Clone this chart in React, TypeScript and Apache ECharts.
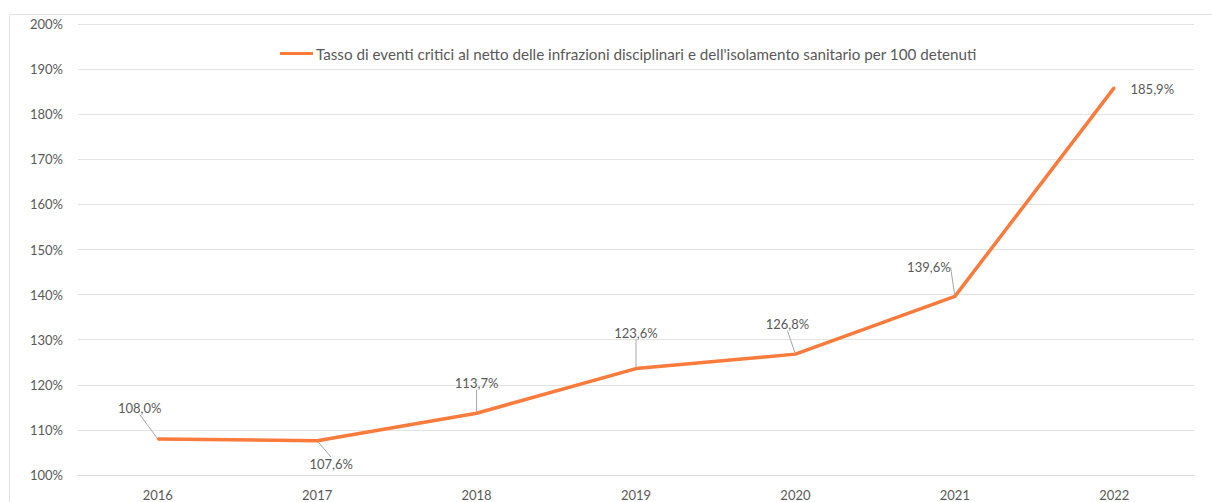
import React, { useEffect, useRef } from "react";
import * as echarts from "echarts";

const years = ["2016", "2017", "2018", "2019", "2020", "2021", "2022"];
const values = [108.0, 107.6, 113.7, 123.6, 126.8, 139.6, 185.9];
const seriesName =
  "Tasso di eventi critici al netto delle infrazioni disciplinari e dell'isolamento sanitario per 100 detenuti";
const labelOffsets = [
  [-18, -31],
  [14, 23],
  [0, -30],
  [0, -36],
  [-8, -30],
  [-26, -29],
  [38, 1],
];
const showLeader = [true, true, true, true, true, true, false];

const FONT = "Lato, 'Open Sans', sans-serif";
const TEXT = "#595959";

export default function App() {
  const ref = useRef<HTMLDivElement>(null);
  useEffect(() => {
    if (!ref.current) return;
    const chart = echarts.init(ref.current, undefined, { renderer: "svg" });
    chart.setOption({
      animation: false,
      backgroundColor: "#ffffff",
      graphic: [
        {
          type: "rect",
          shape: { x: 9.5, y: 14.5, width: 1240, height: 520 },
          style: { fill: "none", stroke: "#e3e3e3", lineWidth: 1 },
          z: -10,
        },
      ],
      legend: {
        top: 41,
        left: 275,
        icon: "rect",
        itemWidth: 33,
        itemHeight: 3,
        itemGap: 10,
        textStyle: { color: TEXT, fontSize: 15.2, fontFamily: FONT, padding: [0, 0, 0, -2] },
        data: [seriesName],
      },
      grid: { left: 78, right: 18, top: 24, bottom: 27, containLabel: false },
      xAxis: {
        type: "category",
        data: years,
        boundaryGap: true,
        axisLine: { show: true, lineStyle: { color: "#d9d9d9" } },
        axisTick: { show: false },
        axisLabel: { color: TEXT, fontSize: 13, fontFamily: FONT, margin: 13 },
      },
      yAxis: {
        type: "value",
        min: 100,
        max: 200,
        interval: 10,
        axisLine: { show: false },
        axisTick: { show: false },
        splitLine: { lineStyle: { color: "#e3e3e3", width: 1 } },
        axisLabel: {
          color: TEXT,
          fontSize: 13,
          fontFamily: FONT,
          margin: 15,
          formatter: (v: number) => `${v}%`,
        },
      },
      series: [
        {
          name: seriesName,
          type: "line",
          data: values.map((v, i) => ({
            value: v,
            labelLine: { show: showLeader[i] },
          })),
          symbol: "circle",
          symbolSize: 2,
          showSymbol: true,
          itemStyle: { color: "#FA7B3C" },
          lineStyle: { color: "#FA7B3C", width: 3.5 },
          label: {
            show: true,
            position: "inside",
            align: "center",
            verticalAlign: "middle",
            color: TEXT,
            fontSize: 13,
            fontFamily: FONT,
            formatter: (p: any) => `${Number(p.value).toFixed(1).replace(".", ",")}%`,
          },
          labelLine: {
            show: true,
            lineStyle: { color: "#a6a6a6", width: 1 },
          },
          labelLayout: (p: any) => {
            const o = labelOffsets[p.dataIndex];
            return { dx: o[0], dy: o[1] };
          },
        },
      ],
    });
    return () => chart.dispose();
  }, []);
  return (
    <div
      ref={ref}
      style={{ position: "absolute", left: 0, top: 0, width: 1212, height: 502 }}
    />
  );
}
